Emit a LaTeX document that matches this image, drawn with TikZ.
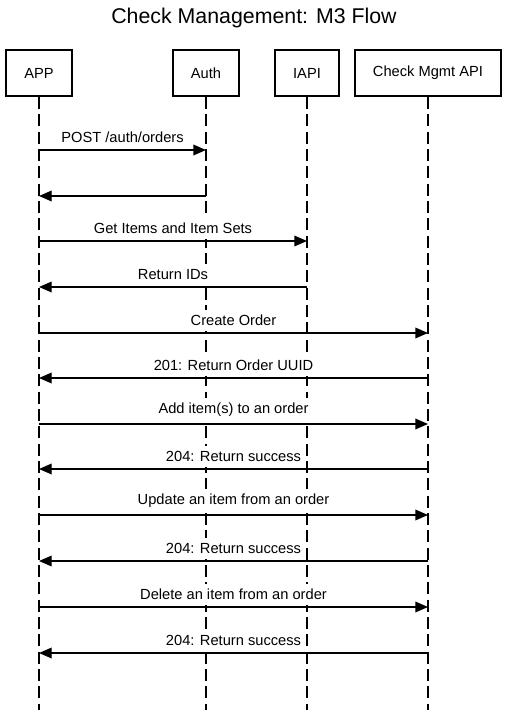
\documentclass[tikz,border=0pt]{standalone}
\usepackage{fontspec}
\setmainfont{Liberation Sans}
\usetikzlibrary{positioning, arrows.meta}
\tikzset{
x=0.75pt, y=-0.75pt, % one unit is one pixel, y runs downwards
>={Triangle[length=9.5pt, width=8pt]}, % filled arrow heads
actor/.style={draw, line width=1.5pt, minimum height=34.5pt, font=\fontsize{11}{13}\selectfont}, % boxes at the top
lifeline/.style={line width=1pt, dash pattern=on 9pt off 4pt}, % dashed vertical lines
msg/.style={->, line width=1pt}, % message arrows
msglabel/.style={above=1pt, fill=white, inner xsep=0.5pt, inner ysep=4pt, font=\fontsize{11}{13}\selectfont}, % text over an arrow
}
\begin{document}
\begin{tikzpicture}
\useasboundingbox (0,0) rectangle (508,710);
\node[font=\fontsize{16}{18}\selectfont] (title) at (254,18) {Check Management: M3 Flow};
\node[actor, minimum width=49.5pt] (app) at (39,73) {APP};
\node[actor, minimum width=49.5pt] (auth) at (206,73) {Auth};
\node[actor, minimum width=48pt] (iapi) at (307,73) {IAPI};
\node[actor, minimum width=109.5pt] (cm) at (428,73) {Check Mgmt API};
% lifelines
\foreach \n in {app, auth, iapi, cm}
  \draw[lifeline] (\n.south) -- (\n |- 0,710);
% messages
\foreach \y/\a/\b/\t in {150/app/auth/{POST /auth/orders}, 196/auth/app/{},
  241/app/iapi/{Get Items and Item Sets}, 287/iapi/app/{Return IDs},
  333/app/cm/{Create Order}, 378/cm/app/{201: Return Order UUID},
  424/app/cm/{Add item(s) to an order}, 469/cm/app/{204: Return success},
  515/app/cm/{Update an item from an order}, 561/cm/app/{204: Return success},
  607/app/cm/{Delete an item from an order}, 653/cm/app/{204: Return success}}
  \draw[msg] (\a |- 0,\y) -- node[msglabel] {\t} (\b |- 0,\y);
\end{tikzpicture}
\end{document}
